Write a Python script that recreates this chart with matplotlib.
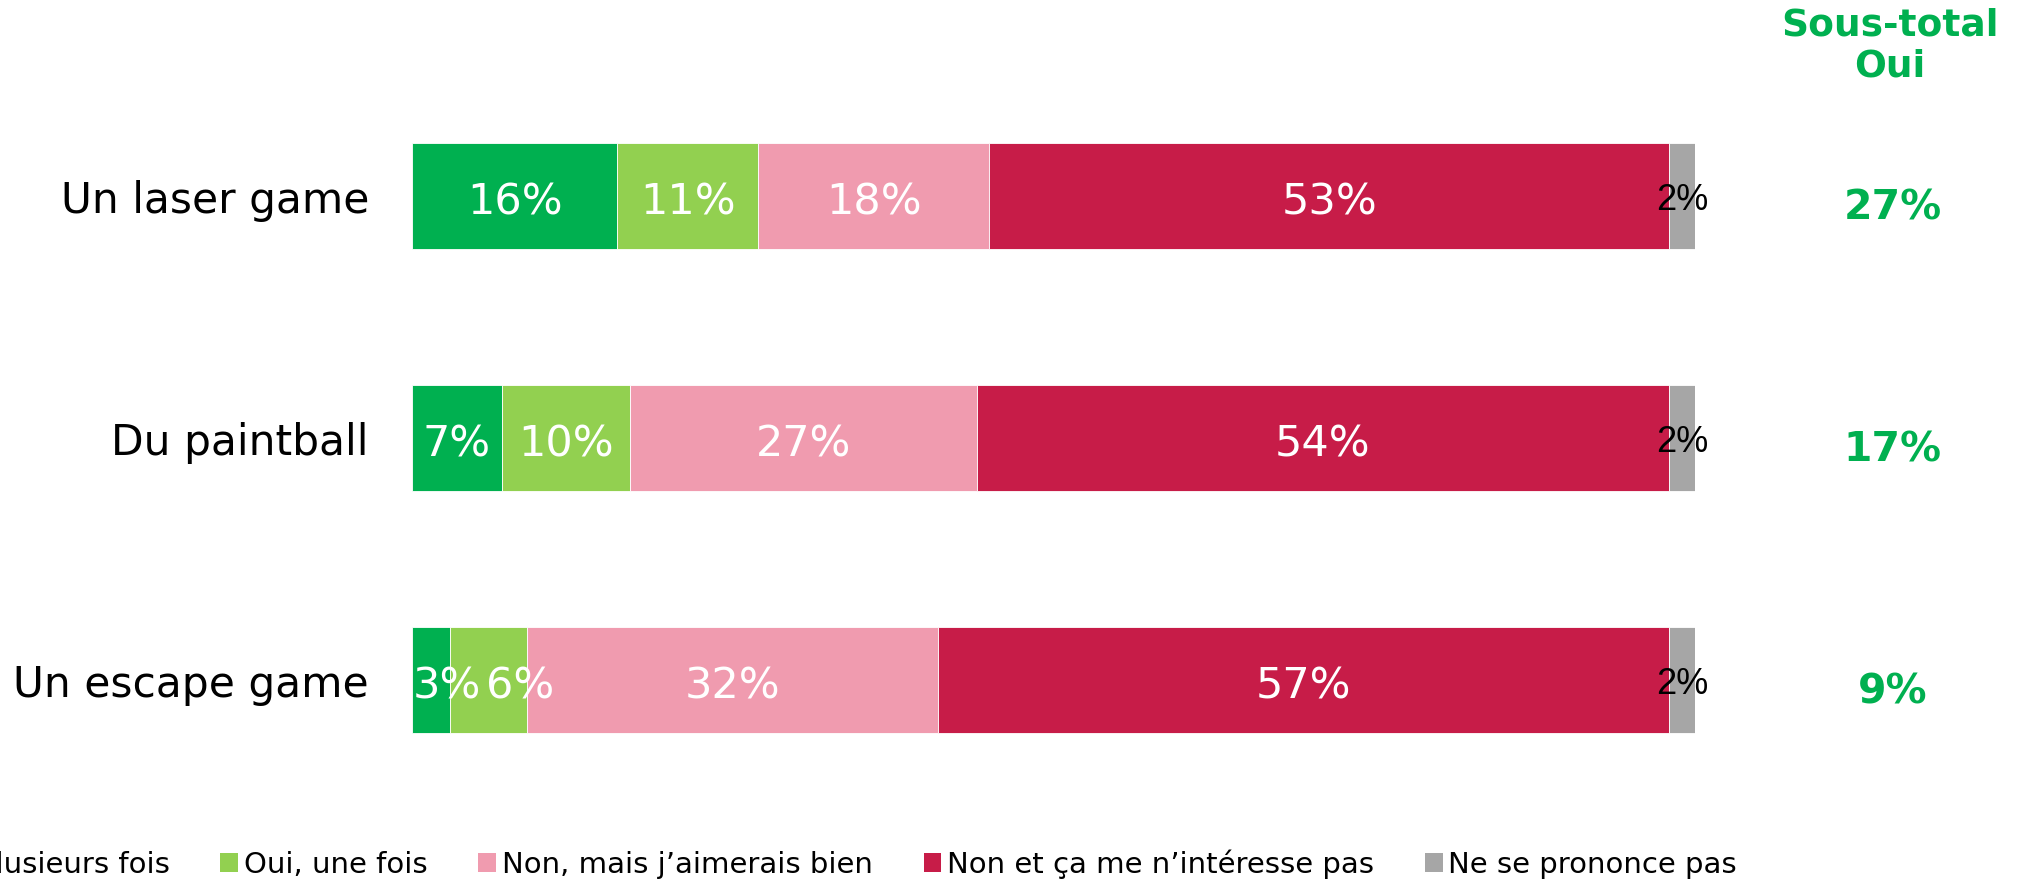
import matplotlib.pyplot as plt
from matplotlib.patches import Patch

categories = ["Un laser game", "Du paintball", "Un escape game"]
series = ["Oui, plusieurs fois", "Oui, une fois", "Non, mais j\u2019aimerais bien",
          "Non et ça me n\u2019intéresse pas", "Ne se prononce pas"]
values = [
    [16, 7, 3],
    [11, 10, 6],
    [18, 27, 32],
    [53, 54, 57],
    [2, 2, 2],
]
subtotal_oui = [27, 17, 9]
colors = ["#00B050", "#92D050", "#F09BAF", "#C71C48", "#A6A6A6"]
green = "#00B050"

# small labels pushed right, as in the original (series, row) -> shift in %
label_nudge = {(0, 2): 1.2, (1, 2): 2.4}

fig = plt.figure(figsize=(20.18, 8.82), dpi=100)
ax = fig.add_axes([412 / 2018, 81 / 882, 1283 / 2018, 726 / 882])

ys = list(range(len(categories)))
left = [0] * len(categories)
for i, (name, vals) in enumerate(zip(series, values)):
    ax.barh(ys, vals, left=left, height=0.44, color=colors[i],
            edgecolor="white", linewidth=0.6, label=name)
    for j, (y, l, v) in enumerate(zip(ys, left, vals)):
        x = l + v / 2 + label_nudge.get((i, j), 0)
        if i == len(series) - 1:
            ax.text(x, y + 0.02, f"{v}%", ha="center", va="center", color="black",
                    fontsize=26, family=["Liberation Sans Narrow", "Liberation Sans"],
                    clip_on=False)
        else:
            ax.text(x, y + 0.025, f"{v}%", ha="center", va="center", color="white",
                    fontsize=31, clip_on=True)
    left = [l + v for l, v in zip(left, vals)]

# sous-total Oui
for y, s in zip(ys, subtotal_oui):
    ax.text(115.4, y + 0.05, f"{s}%", ha="center", va="center", color=green,
            fontsize=29.5, fontweight="bold", clip_on=False)
fig.text(1890 / 2018, 1 - 46 / 882, "Sous-total\nOui", ha="center", va="center",
         color=green, fontsize=27, fontweight="bold", linespacing=1.15)

ax.set_xlim(0, 100)
ax.set_ylim(2.5, -0.5)
ax.set_yticks(ys)
ax.set_yticklabels(categories, fontsize=30.5)
ax.tick_params(axis="y", length=0, pad=31)
ax.set_xticks([])
for sp in ax.spines.values():
    sp.set_visible(False)

handles = [Patch(facecolor=c, edgecolor="none") for c in colors]
fig.legend(handles, series, loc="center right", bbox_to_anchor=(1737 / 2018, 18 / 882),
           ncol=5, frameon=False, fontsize=21, handlelength=0.6, handleheight=0.6,
           handletextpad=0.2, columnspacing=1.75, borderpad=0, borderaxespad=0)

fig.savefig("out.png", dpi=100)
